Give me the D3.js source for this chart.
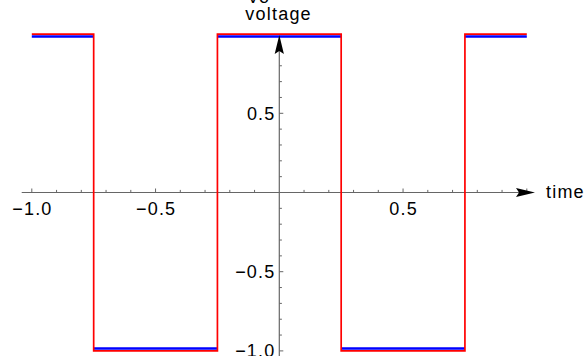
<!DOCTYPE html>
<html><head><meta charset="utf-8">
<script src="https://cdn.jsdelivr.net/npm/d3@7"></script>
<style>body{margin:0;background:#fff}svg{display:block}text{font-family:"Liberation Sans",Arial,Helvetica,sans-serif;font-size:18px;letter-spacing:1.2px;fill:#000}</style>
</head><body><svg id="c" width="587" height="356"></svg>
<script>
// data
const breakTimes = [-1, -0.75, -0.25, 0.25, 0.75, 1];
const redLevels = [1, -1, 1, -1, 1];
const blueLevels = [0.985, -0.985, 0.985, -0.985, 0.985];
const xTickLabels = [-1.0, -0.5, 0.5];
const yTickLabels = [0.5, -0.5, -1.0];
const xLabel = "time";
const yLabel = "voltage";
const topCutLabel = "Vo";

const svg = d3.select("#c");
const x = d3.scaleLinear().domain([-1, 1]).range([31.8, 526.8]);
const y = d3.scaleLinear().domain([-1, 1]).range([350.9, 34.1]);
const fmt = v => (v < 0 ? "\u2212" : "") + Math.abs(v).toFixed(1);
const axisColor = "#666";
const LS = 1.2;

// axes lines
const g = svg.append("g");
g.append("line").attr("x1", 21.7).attr("x2", 520).attr("y1", y(0)).attr("y2", y(0))
  .attr("stroke", axisColor).attr("stroke-width", 1.2);
g.append("line").attr("x1", x(0)).attr("x2", x(0)).attr("y1", 356).attr("y2", 50)
  .attr("stroke", axisColor).attr("stroke-width", 1.2);

// ticks
const minor = d3.range(-10, 11).map(i => i / 10);
minor.forEach(v => {
  const major = Math.abs(Math.abs(v) - 0.5) < 1e-9 || Math.abs(Math.abs(v) - 1) < 1e-9;
  const len = major ? 4 : 2.6;
  if (Math.abs(v) > 1e-9) {
    g.append("line").attr("x1", x(v)).attr("x2", x(v)).attr("y1", y(0)).attr("y2", y(0) - len)
      .attr("stroke", axisColor).attr("stroke-width", 1);
    if (v < 0.95) g.append("line").attr("y1", y(v)).attr("y2", y(v)).attr("x1", x(0)).attr("x2", x(0) + len)
      .attr("stroke", axisColor).attr("stroke-width", 1);
  }
});

// tick labels
xTickLabels.forEach(v => {
  g.append("text").attr("x", x(v) + LS / 2).attr("y", 214.7).attr("text-anchor", "middle").text(fmt(v));
});
yTickLabels.forEach(v => {
  g.append("text").attr("x", x(0) - 5 + LS).attr("y", y(v) + 6.3).attr("text-anchor", "end").text(fmt(v));
});

// series
const blue = svg.append("g");
blueLevels.forEach((lv, i) => {
  blue.append("line").attr("x1", x(breakTimes[i])).attr("x2", x(breakTimes[i + 1]))
    .attr("y1", y(lv)).attr("y2", y(lv)).attr("stroke", "#0000ff").attr("stroke-width", 2.6);
});
const redPts = [];
redLevels.forEach((lv, i) => { redPts.push([breakTimes[i], lv]); redPts.push([breakTimes[i + 1], lv]); });
svg.append("path").attr("d", d3.line().x(d => x(d[0])).y(d => y(d[1]))(redPts))
  .attr("fill", "none").attr("stroke", "#ff0000").attr("stroke-width", 1.7);

// arrowheads
const ax = 535, ay = y(0);
svg.append("path").attr("d", `M${ax},${ay} L${ax - 19},${ay - 4.6} L${ax - 16},${ay} L${ax - 19},${ay + 4.6} Z`).attr("fill", "#000");
const bx = x(0), by = 35;
svg.append("path").attr("d", `M${bx},${by} L${bx - 4.6},${by + 19} L${bx},${by + 16} L${bx + 4.6},${by + 19} Z`).attr("fill", "#000");

// axis labels
svg.append("text").attr("x", 546).attr("y", 198).text(xLabel);
svg.append("text").attr("x", 278 + LS / 2).attr("y", 20).attr("text-anchor", "middle").text(yLabel);
svg.append("text").attr("x", 258 + LS / 2).attr("y", 3).attr("text-anchor", "middle").text(topCutLabel);
</script></body></html>
